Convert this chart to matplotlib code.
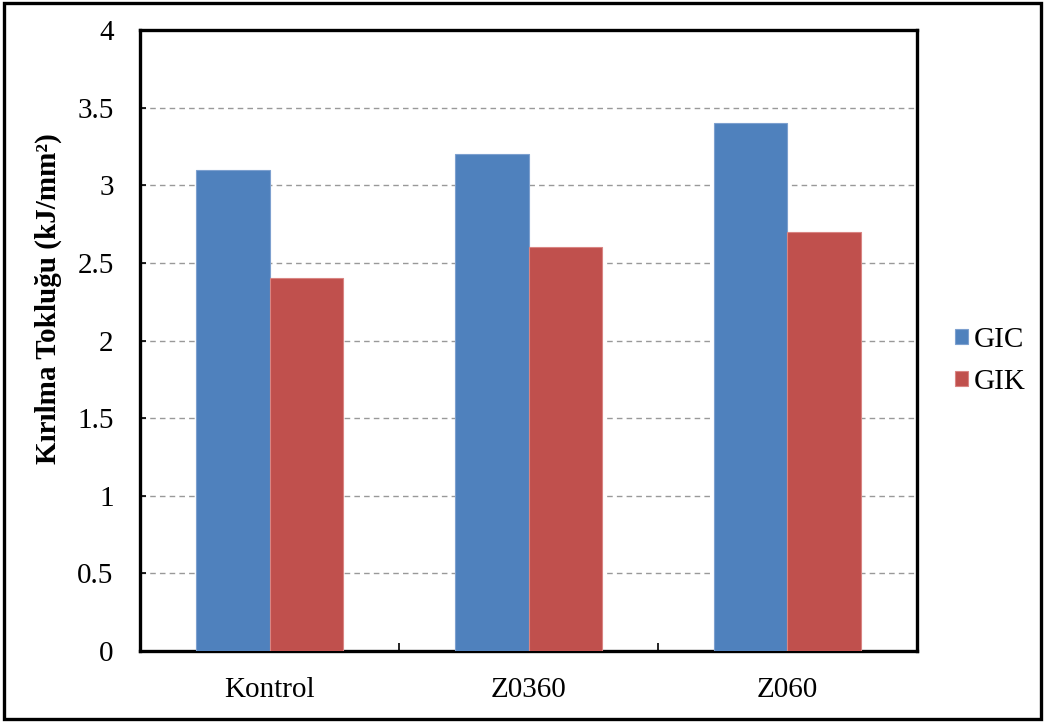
import numpy as np
import matplotlib.pyplot as plt
from matplotlib.patches import Rectangle

# -------------------------------
# Data
# -------------------------------
categories = ["Kontrol", "Z0360", "Z060"]
series_names = ["GIC", "GIK"]
gic_values = [3.1, 3.2, 3.4]
gik_values = [2.4, 2.6, 2.7]
y_ticks = [0, 0.5, 1, 1.5, 2, 2.5, 3, 3.5, 4]
y_tick_labels = ["0", "0.5", "1", "1.5", "2", "2.5", "3", "3.5", "4"]

colors = ["#4F81BD", "#C0504D"]

plt.rcParams['font.family'] = ['Liberation Serif', 'DejaVu Serif']

fig = plt.figure(figsize=(10.45, 7.22), dpi=100)
ax = fig.add_axes([0.134, 0.0983, 0.7435, 0.860])

x = np.arange(len(categories))
width = 0.285
ax.bar(x - width / 2, gic_values, width, color=colors[0], label=series_names[0],
       edgecolor="#7DA0CF", linewidth=0.8, zorder=3)
ax.bar(x + width / 2, gik_values, width, color=colors[1], label=series_names[1],
       edgecolor="#D98583", linewidth=0.8, zorder=3)

ax.set_xlim(-0.5, len(categories) - 0.5)
ax.set_ylim(0, 4)
ax.set_yticks(y_ticks)
ax.set_yticklabels(y_tick_labels, fontsize=21)
ax.set_xticks(x)
ax.set_xticklabels(categories, fontsize=21)
ax.tick_params(axis='x', length=0, pad=19)
ax.set_xticks(np.arange(0.5, len(categories) - 0.5, 1), minor=True)
ax.tick_params(axis='x', which='minor', direction='in', length=6, width=1.2)
ax.tick_params(axis='y', direction='in', length=4, width=1.2, pad=19)

ax.yaxis.grid(True, linestyle=(0, (4, 3)), color='#999999', linewidth=1.0, zorder=0)
ax.set_axisbelow(True)

for sp in ax.spines.values():
    sp.set_linewidth(2.4)
    sp.set_color('black')

ax.set_ylabel("Kırılma Tokluğu (kJ/mm²)", fontsize=21, fontweight='bold')
ax.yaxis.set_label_coords(-0.10, 0.568)

ax.legend(loc='center left', bbox_to_anchor=(0.889, 0.50), bbox_transform=fig.transFigure,
          frameon=False, fontsize=21, handlelength=0.45, handleheight=0.45,
          handletextpad=0.2, labelspacing=0.55)

# frame around the whole figure
fig.patches.append(Rectangle((0.004, 0.004), 0.992, 0.992, transform=fig.transFigure,
                             fill=False, edgecolor='black', linewidth=2.4))

fig.savefig("out.png", dpi=100)
